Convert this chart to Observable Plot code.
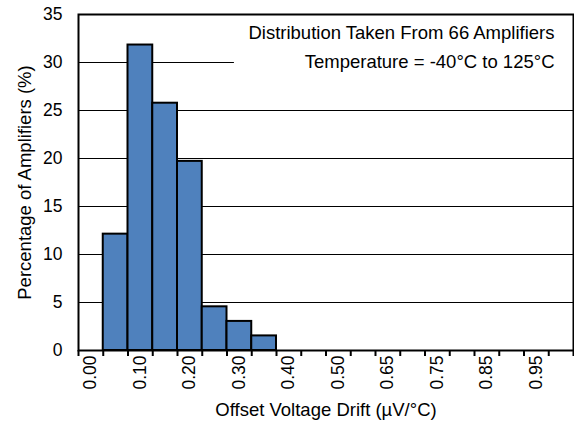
<!DOCTYPE html>
<html>
<head>
<meta charset="utf-8">
<script src="https://cdn.jsdelivr.net/npm/d3@7"></script>
<script src="https://cdn.jsdelivr.net/npm/@observablehq/plot@0.6"></script>
<style>
  html, body { margin: 0; padding: 0; background: #fff; }
  #chart svg { display: block; }
</style>
</head>
<body>
<div id="chart"></div>
<script>
const categories = ["0.00","0.05","0.10","0.15","0.20","0.25","0.30","0.35","0.40","0.45",
                    "0.50","0.60","0.65","0.70","0.75","0.80","0.85","0.90","0.95","1.00"];
const percentages = [0, 12.12, 31.82, 25.76, 19.70, 4.55, 3.03, 1.52, 0, 0,
                     0, 0, 0, 0, 0, 0, 0, 0, 0, 0];
const yTicks = [0, 5, 10, 15, 20, 25, 30, 35];
const notes = ["Distribution Taken From 66 Amplifiers", "Temperature = -40°C to 125°C"];
const xTitle = "Offset Voltage Drift (µV/°C)";
const yTitle = "Percentage of Amplifiers (%)";

const table = categories.map((c, i) => ({cat: c, i, pct: percentages[i]}));
const bars = table.filter(d => d.pct > 0);
const boundaries = d3.range(0, categories.length + 1);
const labelPositions = table.filter(d => d.i % 2 === 0).map(d => d.i + 0.5);
const gridLines = yTicks.filter(v => v > 0 && v < 35);
// legend box region (in category-index / percent units)
const legendBox = [{x1: 6.3, x2: categories.length, y1: 27.5, y2: 35}];

const chart = Plot.plot({
  width: 574,
  height: 424,
  marginTop: 14,
  marginBottom: 74,
  marginLeft: 78,
  marginRight: 1,
  style: {fontFamily: "'Liberation Sans', Arial, sans-serif", fontSize: "17.5px", color: "#000", background: "#fff"},
  x: {domain: [0, categories.length]},
  y: {domain: [0, 35]},
  marks: [
    Plot.ruleY(gridLines, {stroke: "#000", strokeWidth: 1}),
    Plot.rect(legendBox, {x1: "x1", x2: "x2", y1: "y1", y2: "y2", fill: "#fff"}),
    Plot.rectY(bars, {x1: "i", x2: d => d.i + 1, y: "pct", fill: "#4F81BD", stroke: "#000", strokeWidth: 2}),
    Plot.text([notes[0]], {frameAnchor: "top-right", textAnchor: "end", lineAnchor: "middle", dx: -19, dy: 19, fill: "#000", fontSize: 18.5}),
    Plot.text([notes[1]], {frameAnchor: "top-right", textAnchor: "end", lineAnchor: "middle", dx: -19, dy: 48, fill: "#000", fontSize: 18.5}),
    Plot.frame({stroke: "#000", strokeWidth: 2}),
    Plot.axisY({ticks: yTicks, tickSize: 0, tickPadding: 16, tickFormat: d3.format("d"), label: null}),
    Plot.text([yTitle], {frameAnchor: "left", textAnchor: "middle", lineAnchor: "middle", rotate: -90, dx: -53, fill: "#000", fontSize: 18.5}),
    Plot.axisX({ticks: boundaries, tickSize: 6, tickFormat: () => "", strokeWidth: 2, label: null}),
    Plot.text([xTitle], {frameAnchor: "bottom", textAnchor: "middle", lineAnchor: "middle", dy: 60, fill: "#000", fontSize: 18.5}),
    Plot.axisX({ticks: labelPositions, tickSize: 0, tickPadding: 5, tickRotate: -90, tickFormat: x => categories[Math.floor(x)], label: null})
  ]
});
document.getElementById("chart").appendChild(chart);
</script>
</body>
</html>
